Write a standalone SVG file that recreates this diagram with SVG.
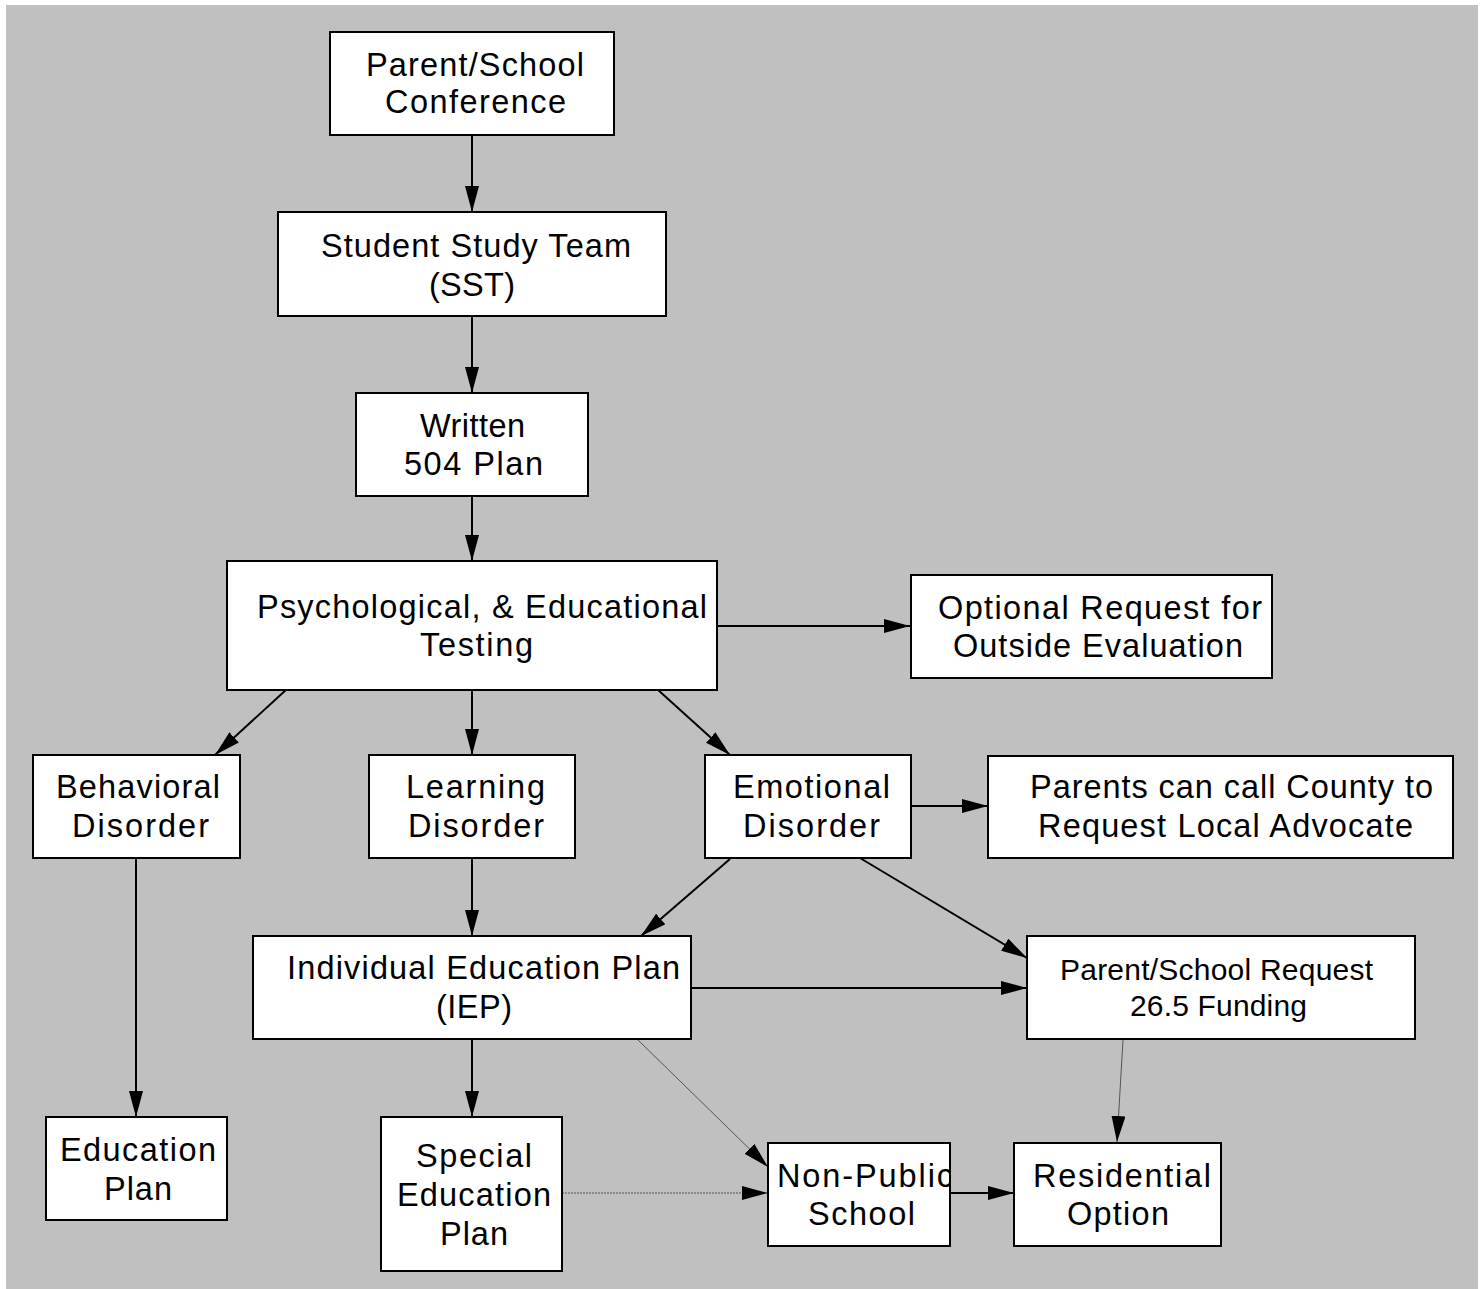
<svg xmlns="http://www.w3.org/2000/svg" width="1484" height="1289" viewBox="0 0 1484 1289">
  <style>
    .box { fill: #ffffff; stroke: #000000; stroke-width: 2; }
    .lbl { font-family: "Liberation Sans", Arial, sans-serif; font-size: 32.5px; fill: #000000; }
    .sm { font-size: 30px; }
    .edge { fill: none; stroke: #000000; stroke-width: 2; marker-end: url(#arrow); }
    .thin { fill: none; stroke: #555555; stroke-width: 1; marker-end: url(#arrow); }
    .dot { stroke-dasharray: 2 1; }
  </style>
  <defs>
    <marker id="arrow" markerUnits="userSpaceOnUse" markerWidth="26" markerHeight="14" refX="26" refY="7" orient="auto">
      <path d="M0,0 L26,7 L0,14 Z" fill="#000000"/>
    </marker>
    <clipPath id="clipNps">
      <rect x="769" y="1144" width="180" height="101"/>
    </clipPath>
  </defs>

  <rect x="0" y="0" width="1484" height="1289" fill="#ffffff"/>
  <rect x="6" y="5" width="1472" height="1284" fill="#c0c0c0"/>

  <g id="connectors">
    <line class="edge" x1="472" y1="135" x2="472" y2="212"/>
    <line class="edge" x1="472" y1="316" x2="472" y2="393"/>
    <line class="edge" x1="472" y1="496" x2="472" y2="561"/>
    <line class="edge" x1="717" y1="626" x2="910" y2="626"/>
    <line class="edge" x1="287" y1="689" x2="215" y2="755"/>
    <line class="edge" x1="472" y1="690" x2="472" y2="755"/>
    <line class="edge" x1="657" y1="689" x2="730" y2="755"/>
    <line class="edge" x1="911" y1="806" x2="988" y2="806"/>
    <line class="edge" x1="136" y1="858" x2="136" y2="1117"/>
    <line class="edge" x1="472" y1="858" x2="472" y2="936"/>
    <line class="edge" x1="730" y1="859" x2="641" y2="936"/>
    <line class="edge" x1="860" y1="858" x2="1027" y2="958"/>
    <line class="edge" x1="691" y1="988" x2="1027" y2="988"/>
    <line class="edge" x1="472" y1="1039" x2="472" y2="1117"/>
    <line class="thin" x1="638" y1="1040" x2="768" y2="1167"/>
    <line class="thin dot" x1="562" y1="1193" x2="768" y2="1193"/>
    <line class="thin" x1="1123" y1="1040" x2="1117" y2="1142"/>
    <line class="edge" x1="950" y1="1193" x2="1014" y2="1193"/>
  </g>

  <g id="parent-school-conference">
    <rect class="box" x="330" y="32" width="284" height="103"/>
    <text class="lbl" x="366" y="76" textLength="218" lengthAdjust="spacing">Parent/School</text>
    <text class="lbl" x="385" y="113" textLength="181" lengthAdjust="spacing">Conference</text>
  </g>

  <g id="student-study-team">
    <rect class="box" x="278" y="212" width="388" height="104"/>
    <text class="lbl" x="321" y="257" textLength="310" lengthAdjust="spacing">Student Study Team</text>
    <text class="lbl" x="429" y="296" textLength="86" lengthAdjust="spacing">(SST)</text>
  </g>

  <g id="written-504-plan">
    <rect class="box" x="356" y="393" width="232" height="103"/>
    <text class="lbl" x="420" y="437" textLength="105" lengthAdjust="spacing">Written</text>
    <text class="lbl" x="404" y="475" textLength="139" lengthAdjust="spacing">504 Plan</text>
  </g>

  <g id="psych-testing">
    <rect class="box" x="227" y="561" width="490" height="129"/>
    <text class="lbl" x="257" y="618" textLength="450" lengthAdjust="spacing">Psychological, &amp; Educational</text>
    <text class="lbl" x="420" y="656" textLength="113" lengthAdjust="spacing">Testing</text>
  </g>

  <g id="outside-evaluation">
    <rect class="box" x="911" y="575" width="361" height="103"/>
    <text class="lbl" x="938" y="619" textLength="324" lengthAdjust="spacing">Optional Request for</text>
    <text class="lbl" x="953" y="657" textLength="290" lengthAdjust="spacing">Outside Evaluation</text>
  </g>

  <g id="behavioral-disorder">
    <rect class="box" x="33" y="755" width="207" height="103"/>
    <text class="lbl" x="56" y="798" textLength="164" lengthAdjust="spacing">Behavioral</text>
    <text class="lbl" x="72" y="837" textLength="137" lengthAdjust="spacing">Disorder</text>
  </g>

  <g id="learning-disorder">
    <rect class="box" x="369" y="755" width="206" height="103"/>
    <text class="lbl" x="406" y="798" textLength="139" lengthAdjust="spacing">Learning</text>
    <text class="lbl" x="408" y="837" textLength="136" lengthAdjust="spacing">Disorder</text>
  </g>

  <g id="emotional-disorder">
    <rect class="box" x="705" y="755" width="206" height="103"/>
    <text class="lbl" x="733" y="798" textLength="157" lengthAdjust="spacing">Emotional</text>
    <text class="lbl" x="743" y="837" textLength="137" lengthAdjust="spacing">Disorder</text>
  </g>

  <g id="county-advocate">
    <rect class="box" x="988" y="756" width="465" height="102"/>
    <text class="lbl" x="1030" y="798" textLength="403" lengthAdjust="spacing">Parents can call County to</text>
    <text class="lbl" x="1038" y="837" textLength="375" lengthAdjust="spacing">Request Local Advocate</text>
  </g>

  <g id="iep">
    <rect class="box" x="253" y="936" width="438" height="103"/>
    <text class="lbl" x="287" y="979" textLength="393" lengthAdjust="spacing">Individual Education Plan</text>
    <text class="lbl" x="436" y="1018" textLength="76" lengthAdjust="spacing">(IEP)</text>
  </g>

  <g id="funding-request">
    <rect class="box" x="1027" y="936" width="388" height="103"/>
    <text class="lbl sm" x="1060" y="980" textLength="313" lengthAdjust="spacing">Parent/School Request</text>
    <text class="lbl sm" x="1130" y="1016" textLength="177" lengthAdjust="spacing">26.5 Funding</text>
  </g>

  <g id="education-plan">
    <rect class="box" x="46" y="1117" width="181" height="103"/>
    <text class="lbl" x="60" y="1161" textLength="156" lengthAdjust="spacing">Education</text>
    <text class="lbl" x="104" y="1200" textLength="68" lengthAdjust="spacing">Plan</text>
  </g>

  <g id="special-education-plan">
    <rect class="box" x="381" y="1117" width="181" height="154"/>
    <text class="lbl" x="416" y="1167" textLength="116" lengthAdjust="spacing">Special</text>
    <text class="lbl" x="397" y="1206" textLength="154" lengthAdjust="spacing">Education</text>
    <text class="lbl" x="440" y="1245" textLength="68" lengthAdjust="spacing">Plan</text>
  </g>

  <g id="non-public-school">
    <rect class="box" x="768" y="1143" width="182" height="103"/>
    <g clip-path="url(#clipNps)">
      <text class="lbl" x="777" y="1187" textLength="176" lengthAdjust="spacing">Non-Public</text>
    </g>
    <text class="lbl" x="808" y="1225" textLength="107" lengthAdjust="spacing">School</text>
  </g>

  <g id="residential-option">
    <rect class="box" x="1014" y="1143" width="207" height="103"/>
    <text class="lbl" x="1033" y="1187" textLength="178" lengthAdjust="spacing">Residential</text>
    <text class="lbl" x="1067" y="1225" textLength="102" lengthAdjust="spacing">Option</text>
  </g>
</svg>
